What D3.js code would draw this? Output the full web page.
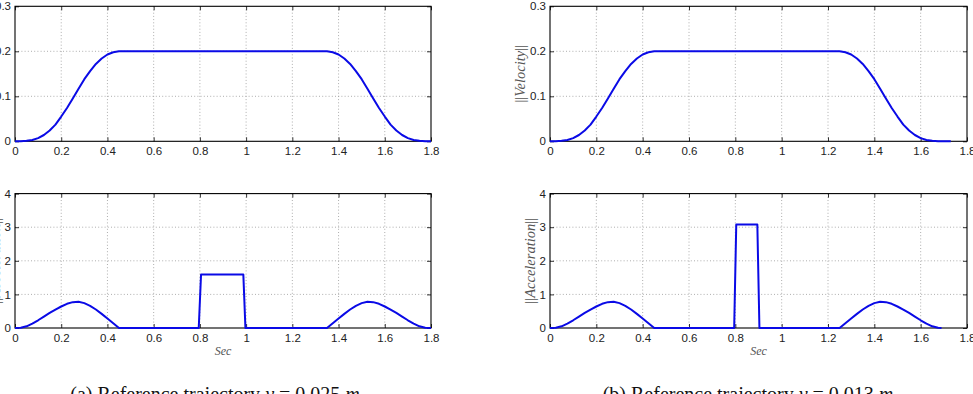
<!DOCTYPE html>
<html>
<head>
<meta charset="utf-8">
<script src="https://cdn.jsdelivr.net/npm/d3@7"></script>
<style>
  html, body { margin: 0; padding: 0; background: #fff; overflow: hidden; }
  svg { display: block; }
</style>
</head>
<body>
<svg id="chart" width="973" height="394"></svg>
<script>
// ---------- data ----------
const xTicks = [0, 0.2, 0.4, 0.6, 0.8, 1, 1.2, 1.4, 1.6, 1.8];
const yTicksVelocity = [0, 0.1, 0.2, 0.3];
const yTicksAcceleration = [0, 1, 2, 3, 4];
const captions = ["(a) Reference trajectory y = 0.025 m", "(b) Reference trajectory y = 0.013 m"];

const velocityA = [
  [0,0],[0.025,0],[0.05,0.001],[0.075,0.003],[0.1,0.007],[0.125,0.014],[0.15,0.024],[0.175,0.037],
  [0.2,0.055],[0.225,0.074],[0.25,0.095],[0.275,0.117],[0.3,0.138],[0.325,0.156],[0.35,0.172],
  [0.375,0.184],[0.4,0.193],[0.425,0.198],[0.45,0.2],
  [1.35,0.2],[1.375,0.198],[1.4,0.193],[1.425,0.184],[1.45,0.172],[1.475,0.156],[1.5,0.138],
  [1.525,0.117],[1.55,0.095],[1.575,0.074],[1.6,0.055],[1.625,0.037],[1.65,0.024],[1.675,0.014],
  [1.7,0.007],[1.725,0.003],[1.75,0.001],[1.775,0],[1.8,0]
];
const accelerationA = [
  [0,0],[0.025,0.005],[0.05,0.05],[0.075,0.13],[0.1,0.23],[0.125,0.34],[0.15,0.45],[0.175,0.55],
  [0.2,0.64],[0.225,0.72],[0.25,0.77],[0.275,0.78],[0.3,0.74],[0.325,0.66],[0.35,0.55],[0.375,0.42],
  [0.4,0.28],[0.425,0.14],[0.45,0],
  [0.795,0],[0.805,1.59],[0.988,1.59],[0.997,0],
  [1.35,0],[1.375,0.14],[1.4,0.28],[1.425,0.42],[1.45,0.55],[1.475,0.66],[1.5,0.74],[1.525,0.78],
  [1.55,0.77],[1.575,0.72],[1.6,0.64],[1.625,0.55],[1.65,0.45],[1.675,0.34],[1.7,0.23],[1.725,0.13],
  [1.75,0.05],[1.775,0.005],[1.8,0]
];
const velocityB = [
  [0,0],[0.025,0],[0.05,0.001],[0.075,0.003],[0.1,0.007],[0.125,0.014],[0.15,0.024],[0.175,0.037],
  [0.2,0.055],[0.225,0.074],[0.25,0.095],[0.275,0.117],[0.3,0.138],[0.325,0.156],[0.35,0.172],
  [0.375,0.184],[0.4,0.193],[0.425,0.198],[0.45,0.2],
  [1.25,0.2],[1.275,0.198],[1.3,0.193],[1.325,0.184],[1.35,0.172],[1.375,0.156],[1.4,0.138],
  [1.425,0.117],[1.45,0.095],[1.475,0.074],[1.5,0.055],[1.525,0.037],[1.55,0.024],[1.575,0.014],
  [1.6,0.007],[1.625,0.003],[1.65,0.001],[1.675,0],[1.73,0]
];
const accelerationB = [
  [0,0],[0.025,0.005],[0.05,0.05],[0.075,0.13],[0.1,0.23],[0.125,0.34],[0.15,0.45],[0.175,0.55],
  [0.2,0.64],[0.225,0.72],[0.25,0.77],[0.275,0.78],[0.3,0.74],[0.325,0.66],[0.35,0.55],[0.375,0.42],
  [0.4,0.28],[0.425,0.14],[0.45,0],
  [0.795,0],[0.804,3.08],[0.895,3.08],[0.904,0],
  [1.25,0],[1.275,0.14],[1.3,0.28],[1.325,0.42],[1.35,0.55],[1.375,0.66],[1.4,0.74],[1.425,0.78],
  [1.45,0.77],[1.475,0.72],[1.5,0.64],[1.525,0.55],[1.55,0.45],[1.575,0.34],[1.6,0.23],[1.625,0.13],
  [1.65,0.05],[1.675,0.005],[1.69,0]
];

// ---------- layout ----------
const svg = d3.select("#chart");
const cols = [{x0: 15, x1: 431}, {x0: 550, x1: 967}];
const rows = [{y0: 6.3, y1: 141.3}, {y0: 193.6, y1: 328}];

const panels = [
  {col: 0, row: 0, data: velocityA, yDomain: [0, 0.3], yTicks: yTicksVelocity, ylabel: "Velocity", sec: false},
  {col: 0, row: 1, data: accelerationA, yDomain: [0, 4], yTicks: yTicksAcceleration, ylabel: "Acceleration", sec: true},
  {col: 1, row: 0, data: velocityB, yDomain: [0, 0.3], yTicks: yTicksVelocity, ylabel: "Velocity", sec: false},
  {col: 1, row: 1, data: accelerationB, yDomain: [0, 4], yTicks: yTicksAcceleration, ylabel: "Acceleration", sec: true}
];

const tickFont = "'Liberation Sans', Arial, Helvetica, sans-serif";
const serifFont = "'Liberation Serif', 'Times New Roman', serif";

panels.forEach(p => {
  const c = cols[p.col], r = rows[p.row];
  const x = d3.scaleLinear().domain([0, 1.8]).range([c.x0, c.x1]);
  const y = d3.scaleLinear().domain(p.yDomain).range([r.y1, r.y0]);
  const g = svg.append("g");

  // grid
  g.selectAll(".vg").data(xTicks.slice(1, -1)).join("line")
    .attr("x1", d => x(d)).attr("x2", d => x(d))
    .attr("y1", r.y0).attr("y2", r.y1)
    .attr("stroke", "#999").attr("stroke-width", 0.8).attr("stroke-dasharray", "1,2.2");
  g.selectAll(".hg").data(p.yTicks.slice(1, -1)).join("line")
    .attr("y1", d => y(d)).attr("y2", d => y(d))
    .attr("x1", c.x0).attr("x2", c.x1)
    .attr("stroke", "#999").attr("stroke-width", 0.8).attr("stroke-dasharray", "1,2.2");

  // axes (inward ticks on all four sides)
  const axB = d3.axisBottom(x).tickValues(xTicks).tickSize(-4).tickPadding(6).tickFormat(d3.format("~g"));
  const axT = d3.axisTop(x).tickValues(xTicks).tickSize(-4).tickFormat("");
  const axL = d3.axisLeft(y).tickValues(p.yTicks).tickSize(-4).tickPadding(4).tickFormat(d3.format("~g"));
  const axR = d3.axisRight(y).tickValues(p.yTicks).tickSize(-4).tickFormat("");

  const gb = g.append("g").attr("transform", `translate(0,${r.y1})`).call(axB);
  const gt = g.append("g").attr("transform", `translate(0,${r.y0})`).call(axT);
  const gl = g.append("g").attr("transform", `translate(${c.x0},0)`).call(axL);
  const gr = g.append("g").attr("transform", `translate(${c.x1},0)`).call(axR);
  [gb, gt, gl, gr].forEach(a => {
    a.select(".domain").remove();
    a.selectAll(".tick line").attr("stroke", "#000").attr("stroke-width", 0.8);
    a.selectAll("text").attr("font-family", tickFont).attr("font-size", 11.5).attr("fill", "#222");
  });

  // frame
  g.append("rect").attr("x", c.x0).attr("y", r.y0)
    .attr("width", c.x1 - c.x0).attr("height", r.y1 - r.y0)
    .attr("fill", "none").attr("stroke", "#000").attr("stroke-width", 1.1);

  // curve
  const line = d3.line().x(d => x(d[0])).y(d => y(d[1]));
  g.append("path").datum(p.data).attr("d", line)
    .attr("fill", "none").attr("stroke", "#0a0ae6").attr("stroke-width", 2)
    .attr("stroke-linejoin", "round");

  // y label
  const yl = g.append("text")
    .attr("transform", `translate(${c.x0 - (p.row === 0 ? 28 : 18)},${(r.y0 + r.y1) / 2}) rotate(-90)`)
    .attr("text-anchor", "middle").attr("dominant-baseline", "middle")
    .attr("font-family", serifFont).attr("font-size", 14.5).attr("fill", "#555");
  yl.append("tspan").text("||");
  yl.append("tspan").attr("font-style", "italic").text(p.ylabel);
  yl.append("tspan").text("||");

  if (p.sec) {
    g.append("text").attr("x", (c.x0 + c.x1) / 2).attr("y", 355)
      .attr("text-anchor", "middle").attr("font-family", serifFont)
      .attr("font-style", "italic").attr("font-size", 12).attr("fill", "#555").text("Sec");
  }
});

// captions
const capX = [215, 748];
captions.forEach((t, i) => {
  const txt = svg.append("text").attr("x", capX[i]).attr("y", 401)
    .attr("text-anchor", "middle").attr("font-family", serifFont)
    .attr("font-size", 20).attr("fill", "#111");
  const parts = t.split(" y = ");
  txt.append("tspan").text(parts[0] + " ");
  txt.append("tspan").attr("font-style", "italic").text("y");
  txt.append("tspan").text(" = " + parts[1].replace(" m", " "));
  txt.append("tspan").attr("font-style", "italic").text("m");
});
</script>
</body>
</html>
